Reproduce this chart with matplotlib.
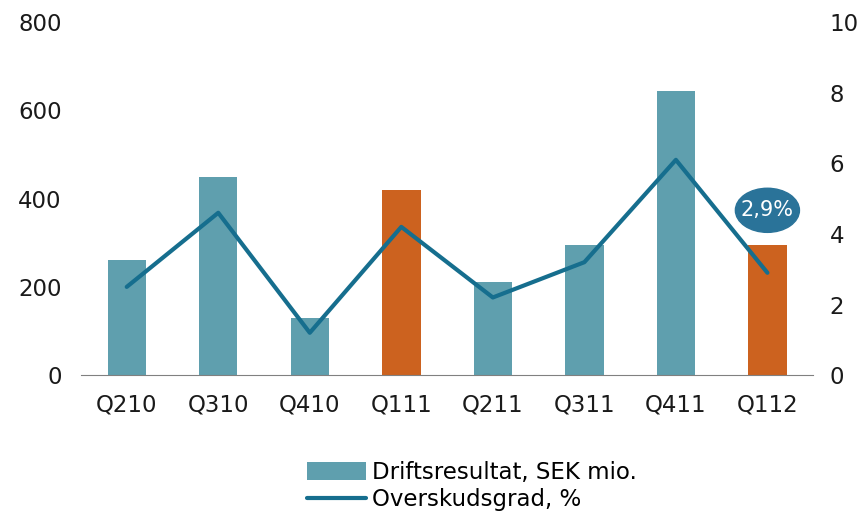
import matplotlib.pyplot as plt
from matplotlib.patches import Ellipse

# data
kvartaler = ['Q210', 'Q310', 'Q410', 'Q111', 'Q211', 'Q311', 'Q411', 'Q112']
driftsresultat = [261, 449, 129, 419, 211, 295, 644, 295]
overskudsgrad = [2.5, 4.6, 1.2, 4.2, 2.2, 3.2, 6.1, 2.9]
bar_colors = ['#5F9FAE', '#5F9FAE', '#5F9FAE', '#CC621F',
              '#5F9FAE', '#5F9FAE', '#5F9FAE', '#CC621F']

plt.rcParams['font.family'] = ['DejaVu Sans']
plt.rcParams['font.size'] = 16.5

fig = plt.figure(figsize=(8.66, 5.16), dpi=100)
ax = fig.add_axes([0.0935, 0.273, 0.8455, 0.684])
ax2 = ax.twinx()

x = range(len(kvartaler))
bars = ax.bar(x, driftsresultat, width=0.42, color=bar_colors, label='Driftsresultat, SEK mio.')
line, = ax2.plot(x, overskudsgrad, color='#166E8E', linewidth=3, label='Overskudsgrad, %',
                 solid_capstyle='round')

ax.set_xlim(-0.5, len(kvartaler) - 0.5)
ax.set_ylim(0, 800)
ax.set_yticks([0, 200, 400, 600, 800])
ax2.set_ylim(0, 10)
ax2.set_yticks([0, 2, 4, 6, 8, 10])
ax.set_xticks(list(x))
ax.set_xticklabels(kvartaler)

for a in (ax, ax2):
    for s in ['top', 'left', 'right', 'bottom']:
        a.spines[s].set_visible(False)
    a.tick_params(length=0, colors='#1a1a1a', labelsize=16.5)
ax.spines['bottom'].set_visible(True)
ax.spines['bottom'].set_color('#808080')
ax.tick_params(axis='y', pad=14)
ax.tick_params(axis='x', pad=13)
ax2.tick_params(axis='y', pad=12)

# label bubble for last value
ax2.add_patch(Ellipse((7, 4.67), 0.70, 1.25, color='#2A7399', zorder=5))
ax2.text(7, 4.67, '2,9%', color='white', ha='center', va='center', fontsize=15, zorder=6)

fig.legend([bars, line], ['Driftsresultat, SEK mio.', 'Overskudsgrad, %'],
           loc='center', bbox_to_anchor=(0.545, 0.058), frameon=False,
           handlelength=2.6, handleheight=0.8, handletextpad=0.25, labelspacing=0.2,
           fontsize=16.5)

fig.savefig('out.png', dpi=100)
